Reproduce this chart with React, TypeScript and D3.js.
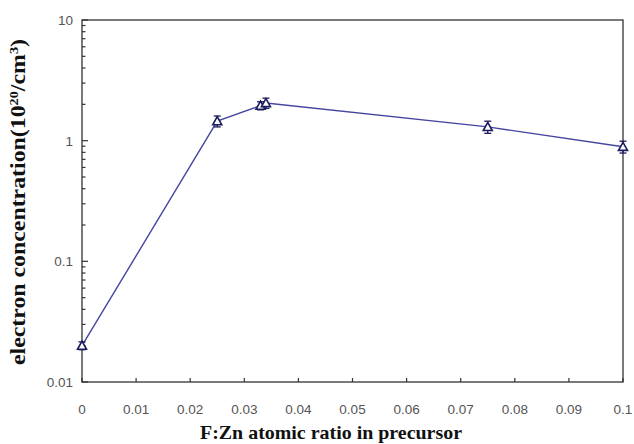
import React from "react";
import * as d3 from "d3";

const ratios = [0, 0.025, 0.033, 0.034, 0.075, 0.1];
const concentration = [0.02, 1.45, 1.95, 2.05, 1.3, 0.89];
const errors = [0.0015, 0.15, 0.15, 0.2, 0.15, 0.1];
const xTickValues = [0, 0.01, 0.02, 0.03, 0.04, 0.05, 0.06, 0.07, 0.08, 0.09, 0.1];
const xTickLabels = ["0", "0.01", "0.02", "0.03", "0.04", "0.05", "0.06", "0.07", "0.08", "0.09", "0.1"];
const yTickValues = [0.01, 0.1, 1, 10];
const yTickLabels = ["0.01", "0.1", "1", "10"];

export default function App() {
  const W = 634, H = 444;
  const L = 82, R = 623, T = 20, B = 382;
  const x = d3.scaleLinear().domain([0, 0.1]).range([L, R]);
  const y = d3.scaleLog().domain([0.01, 10]).range([B, T]);
  const line = d3.line<number>().x((_, i) => x(ratios[i])).y((d) => y(d));
  const minor: number[] = [];
  [0.01, 0.1, 1].forEach((dec) => {
    for (let k = 2; k <= 9; k++) minor.push(dec * k);
  });
  const tri = (cx: number, cy: number) => {
    const s = 4.5;
    return `M${cx},${cy - s}L${cx + s},${cy + s * 0.8}L${cx - s},${cy + s * 0.8}Z`;
  };
  const labelColor = "#555";
  const serif = "Liberation Serif, Times New Roman, serif";
  return (
    <svg width={W} height={H} style={{ position: "absolute", left: 0, top: 0, background: "#fff" }}>
      <rect x={0} y={0} width={W} height={H} fill="#fff" />
      <rect x={L} y={T} width={R - L} height={B - T} fill="none" stroke="#333" strokeWidth={1.3} />
      {yTickValues.map((v) => (
        <line key={"ym" + v} x1={L} x2={L + 6} y1={y(v)} y2={y(v)} stroke="#333" strokeWidth={1.2} />
      ))}
      {minor.map((v) => (
        <line key={"yn" + v} x1={L} x2={L + 3.5} y1={y(v)} y2={y(v)} stroke="#333" strokeWidth={1.2} />
      ))}
      {yTickValues.map((v, i) => (
        <text key={"yl" + v} x={L - 9} y={y(v) + 5} textAnchor="end" fontFamily="Liberation Sans, Arial, sans-serif" fontSize={13.5} fill={labelColor}>
          {yTickLabels[i]}
        </text>
      ))}
      {xTickValues.map((v, i) => (
        <g key={"x" + v}>
          <line x1={x(v)} x2={x(v)} y1={B} y2={B - 4} stroke="#333" strokeWidth={1.2} />
          <text x={x(v)} y={B + 32} textAnchor="middle" fontFamily="Liberation Sans, Arial, sans-serif" fontSize={13.5} fill={labelColor}>
            {xTickLabels[i]}
          </text>
        </g>
      ))}
      <path d={line(concentration) || ""} fill="none" stroke="#4545a0" strokeWidth={1.4} />
      {concentration.map((v, i) => {
        const cx = x(ratios[i]);
        const y1 = y(v + errors[i]);
        const y2 = y(v - errors[i]);
        return (
          <g key={"e" + i} stroke="#1c1c5c" strokeWidth={1.3}>
            <line x1={cx} x2={cx} y1={y1} y2={y2} />
            <line x1={cx - 3.5} x2={cx + 3.5} y1={y1} y2={y1} />
            <line x1={cx - 3.5} x2={cx + 3.5} y1={y2} y2={y2} />
          </g>
        );
      })}
      {concentration.map((v, i) => (
        <path key={"m" + i} d={tri(x(ratios[i]), y(v))} fill="#fff" stroke="#1c1c5c" strokeWidth={1.6} />
      ))}
      <text x={331} y={439} textAnchor="middle" fontFamily={serif} fontWeight="bold" fontSize={19} fill="#111" textLength={262} lengthAdjust="spacingAndGlyphs">
        F:Zn atomic ratio in precursor
      </text>
      <text transform={`translate(25,202) rotate(-90)`} textAnchor="middle" fontFamily={serif} fontWeight="bold" fontSize={20} fill="#111" textLength={326} lengthAdjust="spacingAndGlyphs">
        electron concentration(10<tspan dy={-7} fontSize={12}>20</tspan><tspan dy={7}>/cm</tspan><tspan dy={-7} fontSize={12}>3</tspan><tspan dy={7}>)</tspan>
      </text>
    </svg>
  );
}
